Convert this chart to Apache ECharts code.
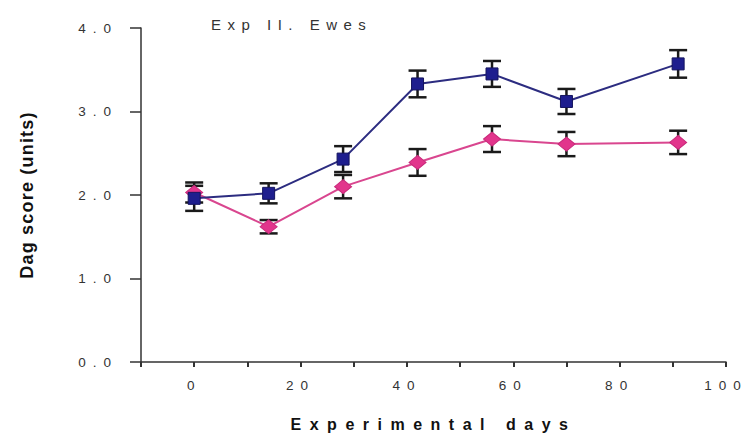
<!DOCTYPE html>
<html>
<head>
<meta charset="utf-8">
<script src="https://cdn.jsdelivr.net/npm/echarts@6/dist/echarts.min.js"></script>
<style>
  html, body { margin: 0; padding: 0; background: #ffffff; }
  #chart { width: 747px; height: 439px; }
</style>
</head>
<body>
<div id="chart"></div>
<script>
// Dag score over the experiment, two groups of ewes (mean ± SEM)
const days = [0, 14, 28, 42, 56, 70, 91];
const blueScore = [1.96, 2.02, 2.43, 3.33, 3.45, 3.12, 3.57];
const blueSem   = [0.15, 0.12, 0.155, 0.16, 0.155, 0.15, 0.165];
const pinkScore = [2.03, 1.62, 2.10, 2.39, 2.67, 2.61, 2.63];
const pinkSem   = [0.12, 0.08, 0.14, 0.16, 0.155, 0.145, 0.14];
const xTicks = [0, 20, 40, 60, 80, 100];
const yTicks = [0, 1, 2, 3, 4];

const titleText = 'Exp II. Ewes';
const xName = 'Experimental days';
const yName = 'Dag score (units)';
const FONT = '"Liberation Sans", Arial, Helvetica, sans-serif';

function errorBars(means, sems, z) {
  return {
    type: 'custom',
    silent: true,
    z: z,
    encode: { x: 0, y: [1, 2] },
    data: days.map((d, i) => [d, means[i] - sems[i], means[i] + sems[i]]),
    renderItem(params, api) {
      const x = api.value(0);
      const lo = api.coord([x, api.value(1)]);
      const hi = api.coord([x, api.value(2)]);
      const hw = 9;
      const style = { stroke: '#1a1a1a', lineWidth: 2.5, fill: null };
      return {
        type: 'group',
        children: [
          { type: 'line', shape: { x1: lo[0], y1: lo[1], x2: hi[0], y2: hi[1] }, style },
          { type: 'line', shape: { x1: lo[0] - hw, y1: lo[1], x2: lo[0] + hw, y2: lo[1] }, style },
          { type: 'line', shape: { x1: hi[0] - hw, y1: hi[1], x2: hi[0] + hw, y2: hi[1] }, style }
        ]
      };
    }
  };
}

const dom = document.getElementById('chart');
const chart = echarts.init(dom, null, { renderer: 'svg' });

chart.setOption({
  animation: false,
  backgroundColor: '#ffffff',
  textStyle: { fontFamily: FONT },
  title: {
    text: titleText,
    left: 211,
    top: 17,
    padding: 0,
    textStyle: { fontFamily: FONT, fontSize: 15, fontWeight: 'normal', color: '#333333' }
  },
  grid: { left: 141, right: 21, top: 28, bottom: 77, containLabel: false },
  xAxis: {
    type: 'value',
    min: -10,
    max: 100,
    interval: 10,
    name: xName,
    nameLocation: 'middle',
    nameGap: 54,
    nameTextStyle: { fontFamily: FONT, fontSize: 16, fontWeight: 'bold', color: '#111111' },
    axisLine: { show: true, onZero: false, lineStyle: { color: '#333333', width: 1.5 } },
    axisTick: { show: true, length: 5, lineStyle: { color: '#333333', width: 2 } },
    axisLabel: {
      margin: 16,
      fontFamily: FONT,
      fontSize: 13.5,
      color: '#333333',
      formatter: v => (xTicks.includes(v) ? String(v) : '')
    },
    splitLine: { show: false }
  },
  yAxis: {
    type: 'value',
    min: yTicks[0],
    max: yTicks[yTicks.length - 1],
    interval: 1,
    name: yName,
    nameLocation: 'middle',
    nameGap: 105,
    nameTextStyle: { fontFamily: FONT, fontSize: 18, fontWeight: 'bold', color: '#111111' },
    axisLine: { show: true, onZero: false, lineStyle: { color: '#333333', width: 1.5 } },
    axisTick: { show: true, length: 11, lineStyle: { color: '#333333', width: 1.5 } },
    axisLabel: {
      margin: 30,
      fontFamily: FONT,
      fontSize: 13.5,
      color: '#333333',
      formatter: v => v.toFixed(1)
    },
    splitLine: { show: false }
  },
  series: [
    errorBars(pinkScore, pinkSem, 1),
    errorBars(blueScore, blueSem, 1),
    {
      type: 'line',
      name: 'pink',
      z: 3,
      data: days.map((d, i) => [d, pinkScore[i]]),
      symbol: 'diamond',
      symbolSize: [17, 14],
      lineStyle: { color: '#d9468f', width: 2 },
      itemStyle: { color: '#e2358c', borderColor: '#c92a7b', borderWidth: 1 }
    },
    {
      type: 'line',
      name: 'blue',
      z: 4,
      data: days.map((d, i) => [d, blueScore[i]]),
      symbol: 'rect',
      symbolSize: 12,
      lineStyle: { color: '#2c2c80', width: 2 },
      itemStyle: { color: '#1e1e8e', borderColor: '#14145e', borderWidth: 1 }
    }
  ]
});

// Widen the letter spacing of the titles and tick numbers
function spaceText() {
  const svg = dom.querySelector('svg');
  if (!svg) return;
  svg.querySelectorAll('text').forEach(t => {
    const s = t.textContent;
    let sp = 0;
    if (s === xName) sp = 8.5;
    else if (s === titleText) sp = 6.5;
    else if (s === yName) sp = 1.2;
    else if (/^[0-9.]+$/.test(s)) sp = 7;
    if (!sp) return;
    t.setAttribute('letter-spacing', sp);
    const anchor = t.getAttribute('text-anchor') || (t.style && t.style.textAnchor);
    if (anchor === 'end') t.setAttribute('dx', sp);
  });
}
spaceText();
chart.on('finished', spaceText);
</script>
</body>
</html>
